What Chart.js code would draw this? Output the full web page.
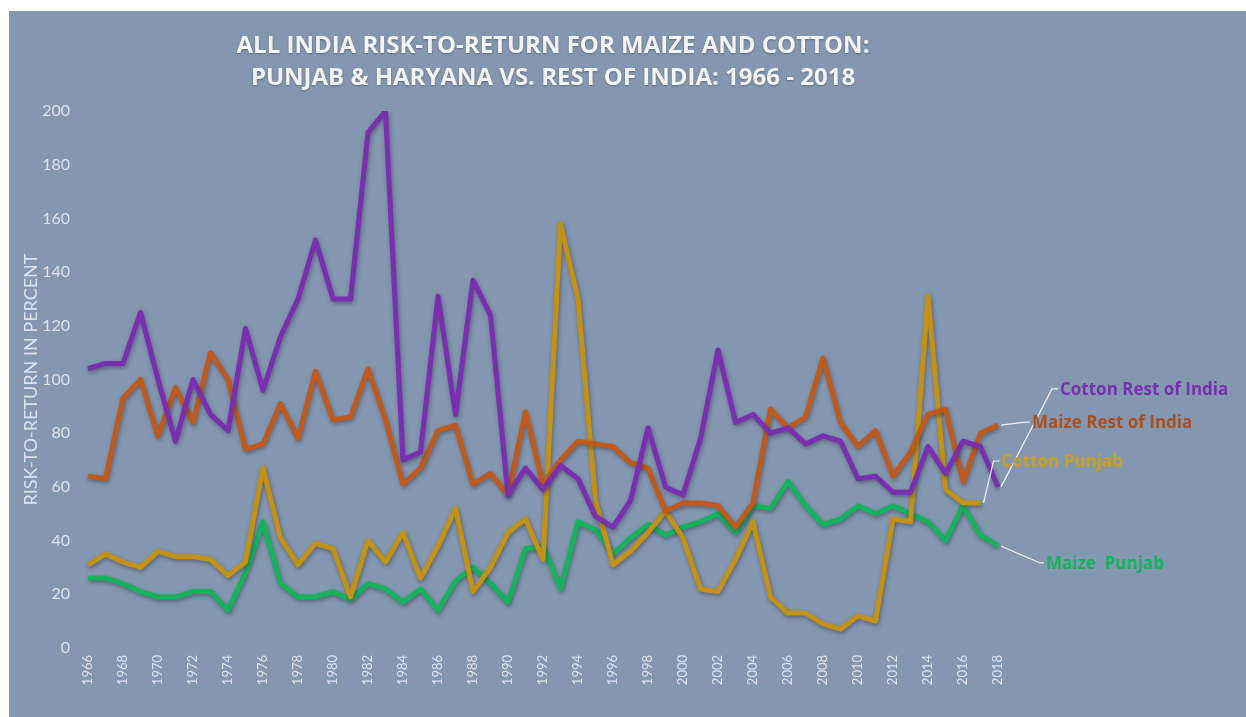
<!DOCTYPE html>
<html>
<head>
<meta charset="utf-8">
<script src="https://cdn.jsdelivr.net/npm/chart.js@4.4.1/dist/chart.umd.min.js"></script>
<style>
html, body { margin: 0; padding: 0; background: #fff; }
#box { position: absolute; left: 9px; top: 11px; width: 1237px; height: 706px; background: #8497b0; }
</style>
</head>
<body>
<div id="box"><canvas id="rr"></canvas></div>
<script>
var years = ["1966","1967","1968","1969","1970","1971","1972","1973","1974","1975",
  "1976","1977","1978","1979","1980","1981","1982","1983","1984","1985",
  "1986","1987","1988","1989","1990","1991","1992","1993","1994","1995",
  "1996","1997","1998","1999","2000","2001","2002","2003","2004","2005",
  "2006","2007","2008","2009","2010","2011","2012","2013","2014","2015",
  "2016","2017","2018"];

var cottonRest = [104,106,106,125,100,77,100,87,81,119,96,116,130,152,130,130,192,200,70,73,
  131,87,137,124,57,67,59,68,63,49,45,55,82,60,57,78,111,84,87,80,
  82,76,79,77,63,64,58,58,75,65,77,75,60];
var maizeRest = [64,63,93,100,79,97,84,110,100,74,76,91,78,103,85,86,104,85,61,67,
  81,83,61,65,57,88,61,70,77,76,75,69,67,51,54,54,53,45,54,89,
  82,86,108,84,75,81,64,73,87,89,62,80,83];
var cottonPunjab = [31,35,32,30,36,34,34,33,27,32,67,41,31,39,37,19,40,32,43,26,
  38,52,21,30,43,48,33,158,130,55,31,36,43,51,41,22,21,33,47,19,
  13,13,9,7,12,10,48,47,131,59,54,54,null];
var maizePunjab = [26,26,24,21,19,19,21,21,14,28,47,24,19,19,21,18,24,22,17,22,
  14,25,30,24,17,37,38,22,47,44,35,41,46,42,45,47,50,43,53,52,
  62,53,46,48,53,50,53,50,47,40,53,42,38];

var yTicks = [0,20,40,60,80,100,120,140,160,180,200];
var titleLines = ["ALL INDIA RISK-TO-RETURN FOR MAIZE AND COTTON:",
  "PUNJAB & HARYANA VS. REST OF INDIA: 1966 - 2018"];

// series names, shown as end labels next to each line
var names = ["Cotton Rest of India", "Maize Rest of India", "Cotton Punjab", "Maize  Punjab"];
var colors = ["#7a2fb0", "#c05a1c", "#c39114", "#14b35c"];
var textColors = ["#7a2fb0", "#a9501e", "#c9a020", "#14b35c"];

// leader line bends and label placement, relative to the last point
var leaders = [
  {dx: 54, dy: -98, hx: 6},
  {dx: 27, dy: -3, hx: 5},
  {dx: 13, dy: -42, hx: 6},
  {dx: 42, dy: 17, hx: 4}
];

var shadowPlugin = {
  id: "shadow",
  beforeDatasetDraw: function(chart) {
    var c = chart.ctx;
    c.save();
    c.shadowColor = "rgba(30,35,55,0.45)";
    c.shadowBlur = 4;
    c.shadowOffsetX = 1;
    c.shadowOffsetY = 2;
  },
  afterDatasetDraw: function(chart) {
    chart.ctx.restore();
  }
};

var textPlugin = {
  id: "texts",
  afterDraw: function(chart) {
    var c = chart.ctx;
    // title
    c.save();
    c.fillStyle = "#f4f4f4";
    c.font = "bold 24px 'Open Sans'";
    c.textAlign = "center";
    c.textBaseline = "middle";
    c.shadowColor = "rgba(40,40,60,0.4)";
    c.shadowBlur = 2;
    c.shadowOffsetY = 1;
    c.fillText(titleLines[0], 544, 35);
    c.fillText(titleLines[1], 544, 67);
    c.restore();

    // end labels with leader lines
    chart.data.datasets.forEach(function(ds, i) {
      var meta = chart.getDatasetMeta(i);
      var last = ds.data.length - 1;
      while (ds.data[last] == null) last--;
      var p = meta.data[last];
      var L = leaders[i];
      var bx = p.x + L.dx, by = p.y + L.dy;
      c.save();
      c.strokeStyle = "#f0f0f0";
      c.lineWidth = 1.2;
      c.beginPath();
      c.moveTo(p.x + 3, p.y);
      c.lineTo(bx, by);
      c.lineTo(bx + L.hx, by);
      c.stroke();
      c.fillStyle = textColors[i];
      c.font = "bold 17px 'Open Sans'";
      c.textAlign = "left";
      c.textBaseline = "middle";
      c.fillText(names[i], bx + L.hx + 2, by + 1);
      c.restore();
    });
  }
};

var rrChart = new Chart("rr", {
  type: "line",
  data: {
    labels: years,
    datasets: [0,1,2,3].map(function(i) {
      return {
        label: names[i],
        data: [cottonRest, maizeRest, cottonPunjab, maizePunjab][i],
        borderColor: colors[i],
        backgroundColor: colors[i],
        borderWidth: 5,
        pointRadius: 0,
        tension: 0,
        fill: false,
        borderJoinStyle: "round"
      };
    })
  },
  options: {
    responsive: true,
    maintainAspectRatio: false,
    animation: false,
    layout: {padding: {left: 0, right: 248, top: 100, bottom: 0}},
    plugins: {
      legend: {display: false},
      title: {display: false},
      tooltip: {enabled: false}
    },
    scales: {
      x: {
        grid: {display: false, drawTicks: false},
        border: {display: false},
        afterFit: function(s) { s.height = 69; },
        ticks: {
          autoSkip: false,
          minRotation: 90,
          maxRotation: 90,
          padding: 7,
          color: "#dde2ea",
          font: {family: "Lato", size: 13},
          callback: function(v, i) { return i % 2 === 0 ? years[i] : ""; }
        }
      },
      y: {
        min: 0,
        max: 200,
        afterFit: function(s) { s.width = 79; },
        afterBuildTicks: function(s) { s.ticks = yTicks.map(function(v) { return {value: v}; }); },
        grid: {display: false, drawTicks: false},
        border: {display: false},
        ticks: {
          padding: 18,
          color: "#dde2ea",
          font: {family: "Lato", size: 16}
        },
        title: {
          display: true,
          text: "RISK-TO-RETURN IN PERCENT",
          color: "#dde2ea",
          font: {family: "Lato", size: 18},
          padding: {top: 11}
        }
      }
    }
  },
  plugins: [shadowPlugin, textPlugin]
});
</script>
</body>
</html>
